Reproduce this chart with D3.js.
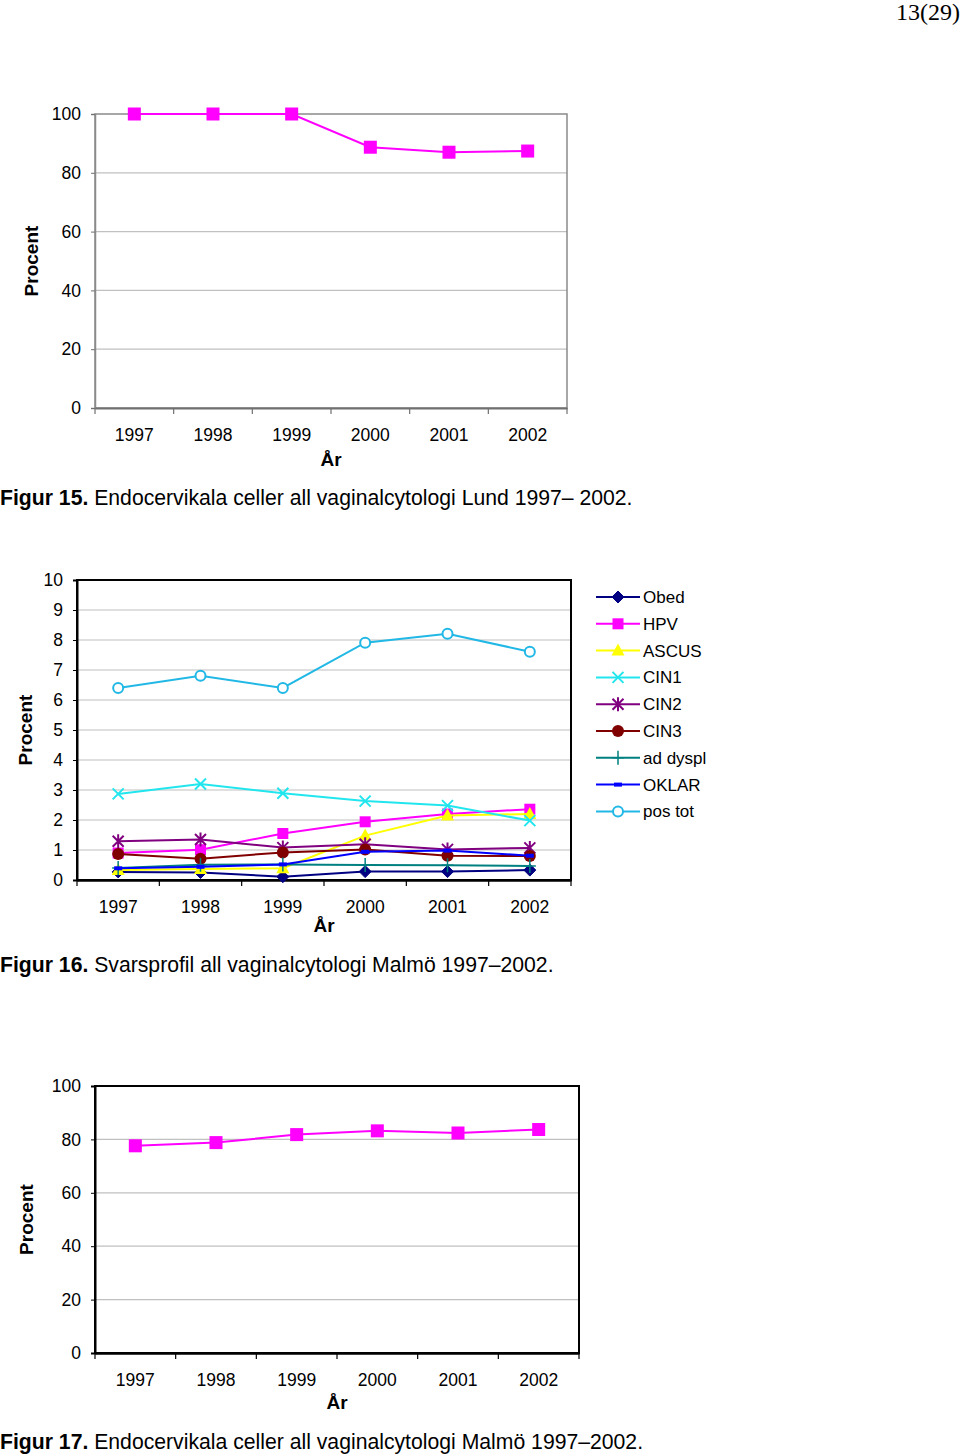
<!DOCTYPE html>
<html><head><meta charset="utf-8">
<script src="https://cdn.jsdelivr.net/npm/d3@7"></script>
<style>
body{margin:0;background:#fff;}
svg text{font-family:"Liberation Sans",Arial,sans-serif;fill:#000;}
</style></head><body>
<svg id="c" width="960" height="1456"></svg>
<script>
const years = ["1997","1998","1999","2000","2001","2002"];
// Figur 15 – Lund
const lundEndo = [100, 100, 100, 88.7, 87.0, 87.4];
// Figur 16 – Malmö svarsprofil
const obed    = [0.27, 0.25, 0.11, 0.28, 0.28, 0.33];
const hpv     = [0.90, 1.01, 1.55, 1.94, 2.20, 2.36];
const ascus   = [0.33, 0.37, 0.39, 1.48, 2.15, 2.20];
const cin1    = [2.87, 3.20, 2.89, 2.63, 2.48, 1.98];
const cin2    = [1.29, 1.35, 1.08, 1.19, 1.02, 1.07];
const cin3    = [0.87, 0.71, 0.92, 1.02, 0.81, 0.80];
const adDyspl = [0.40, 0.51, 0.52, 0.50, 0.49, 0.47];
const oklar   = [0.39, 0.44, 0.52, 0.94, 0.98, 0.81];
const posTot  = [6.40, 6.81, 6.40, 7.91, 8.21, 7.61];
// Figur 17 – Malmö
const malmoEndo = [77.6, 78.8, 81.8, 83.2, 82.4, 83.7];

const ticks100 = [0,20,40,60,80,100];
const ticks10 = [0,1,2,3,4,5,6,7,8,9,10];

const seriesNames = ["Obed","HPV","ASCUS","CIN1","CIN2","CIN3","ad dyspl","OKLAR","pos tot"];
const seriesVals = [obed,hpv,ascus,cin1,cin2,cin3,adDyspl,oklar,posTot];
const seriesColors = ["#000080","#ff00ff","#ffff00","#22e6ee","#800080","#800000","#008080","#0000ff","#22b8e6"];
const seriesMarkers = ["diamond","square","triangle","x","star","circle","plus","dash","ocircle"];

const svg = d3.select("#c");

function marker(g, type, x, y, color){
  const s = 6;
  if(type==="diamond"){
    g.append("path").attr("d",`M${x},${y-s}L${x+s},${y}L${x},${y+s}L${x-s},${y}Z`).attr("fill",color).attr("stroke",color).attr("stroke-width",1);
  } else if(type==="square"){
    g.append("rect").attr("x",x-5.5).attr("y",y-5.5).attr("width",11).attr("height",11).attr("fill",color);
  } else if(type==="bigsquare"){
    g.append("rect").attr("x",x-6.5).attr("y",y-6.5).attr("width",13).attr("height",13).attr("fill",color);
  } else if(type==="triangle"){
    g.append("path").attr("d",`M${x},${y-7}L${x+6.5},${y+5}L${x-6.5},${y+5}Z`).attr("fill",color);
  } else if(type==="x"){
    g.append("path").attr("d",`M${x-5.5},${y-5.5}L${x+5.5},${y+5.5}M${x-5.5},${y+5.5}L${x+5.5},${y-5.5}`).attr("stroke",color).attr("stroke-width",2).attr("fill","none");
  } else if(type==="star"){
    g.append("path").attr("d",`M${x-5.5},${y-5.5}L${x+5.5},${y+5.5}M${x-5.5},${y+5.5}L${x+5.5},${y-5.5}M${x},${y-7}L${x},${y+7}`).attr("stroke",color).attr("stroke-width",2).attr("fill","none");
  } else if(type==="circle"){
    g.append("circle").attr("cx",x).attr("cy",y).attr("r",6).attr("fill",color);
  } else if(type==="plus"){
    g.append("path").attr("d",`M${x},${y-7}L${x},${y+7}M${x-6},${y}L${x+6},${y}`).attr("stroke",color).attr("stroke-width",1.5).attr("fill","none");
  } else if(type==="dash"){
    g.append("rect").attr("x",x-4).attr("y",y-2).attr("width",8).attr("height",4).attr("fill",color);
  } else if(type==="ocircle"){
    g.append("circle").attr("cx",x).attr("cy",y).attr("r",5).attr("fill","#fff").attr("stroke",color).attr("stroke-width",2);
  }
}

function chart(cfg){
  const g = svg.append("g");
  const x = d3.scaleBand().domain(years).range([cfg.left,cfg.right]);
  const y = d3.scaleLinear().domain([0,cfg.max]).range([cfg.bottom,cfg.top]);
  g.selectAll(".grid").data(cfg.ticks.filter(t=>t>0&&t<cfg.max)).enter().append("line")
    .attr("x1",cfg.left).attr("x2",cfg.right).attr("y1",d=>y(d)).attr("y2",d=>y(d))
    .attr("stroke","#c0c0c0").attr("stroke-width",1.2);
  g.append("rect").attr("x",cfg.left).attr("y",cfg.top).attr("width",cfg.right-cfg.left).attr("height",cfg.bottom-cfg.top)
    .attr("fill","none").attr("stroke",cfg.frame).attr("stroke-width",cfg.frameW);
  const ya = g.append("g").attr("transform",`translate(${cfg.left},0)`)
    .call(d3.axisLeft(y).tickValues(cfg.ticks).tickSize(4).tickPadding(cfg.ypad).tickFormat(d3.format("d")));
  ya.select(".domain").attr("stroke",cfg.frame).attr("stroke-width",cfg.frameW);
  ya.selectAll(".tick line").attr("stroke",cfg.axisCol);
  ya.selectAll(".tick text").attr("font-size",17.5).attr("font-family","Liberation Sans, Arial").attr("fill","#000");
  const xa = g.append("g").attr("transform",`translate(0,${cfg.bottom})`)
    .call(d3.axisBottom(x).tickSize(0).tickPadding(cfg.xpad));
  xa.select(".domain").attr("stroke",cfg.axisCol).attr("stroke-width",cfg.frameW+0.5);
  xa.selectAll(".tick text").attr("font-size",17.5).attr("font-family","Liberation Sans, Arial").attr("fill","#000");
  const bounds = years.map(d=>x(d)).concat([cfg.right]);
  g.selectAll(".xt").data(bounds).enter().append("line")
    .attr("x1",d=>d).attr("x2",d=>d).attr("y1",cfg.bottom).attr("y2",cfg.bottom+6)
    .attr("stroke",cfg.axisCol).attr("stroke-width",1.2);
  g.append("text").attr("x",(cfg.left+cfg.right)/2).attr("y",cfg.bottom+cfg.arY).attr("text-anchor","middle")
    .attr("font-size",19).attr("font-weight","bold").text("År");
  g.append("text").attr("transform",`translate(${cfg.procX},${(cfg.top+cfg.bottom)/2}) rotate(-90)`)
    .attr("text-anchor","middle").attr("font-size",19).attr("font-weight","bold").text("Procent");
  const cx = d=>x(d)+x.bandwidth()/2;
  cfg.series.forEach(s=>{
    const line = d3.line().x((v,i)=>cx(years[i])).y(v=>y(v));
    g.append("path").attr("d",line(s.values)).attr("fill","none").attr("stroke",s.color).attr("stroke-width",2);
    s.values.forEach((v,i)=>marker(g,s.marker,cx(years[i]),y(v),s.color));
  });
  const t = g.append("text").attr("x",0).attr("y",cfg.capY).attr("font-size",21.2);
  t.append("tspan").attr("font-weight","bold").text(cfg.capB);
  t.append("tspan").text(cfg.capR);
  return {x,y};
}

svg.append("text").attr("x",960).attr("y",20).attr("text-anchor","end")
  .style("font-family","'Liberation Serif', 'Times New Roman', serif")
  .attr("font-size",24).text("13(29)");

chart({left:95,right:567,top:114,bottom:408,max:100,ticks:ticks100,frame:"#8a8a8a",frameW:1.5,axisCol:"#707070",
  ypad:10,xpad:21,arY:58,procX:38,capY:505,capB:"Figur 15.",capR:" Endocervikala celler all vaginalcytologi Lund 1997– 2002.",
  series:[{values:lundEndo,color:"#ff00ff",marker:"bigsquare"}]});

chart({left:77,right:571,top:580,bottom:880,max:10,ticks:ticks10,frame:"#000",frameW:2,axisCol:"#000",
  ypad:10,xpad:21,arY:52,procX:32,capY:972,capB:"Figur 16.",capR:" Svarsprofil all vaginalcytologi Malmö 1997–2002.",
  series:seriesVals.map((v,i)=>({values:v,color:seriesColors[i],marker:seriesMarkers[i]}))});

const lg = svg.append("g");
seriesNames.forEach((n,i)=>{
  const yy = 597 + i*26.8;
  lg.append("line").attr("x1",596).attr("x2",640).attr("y1",yy).attr("y2",yy).attr("stroke",seriesColors[i]).attr("stroke-width",2);
  marker(lg,seriesMarkers[i],618,yy,seriesColors[i]);
  lg.append("text").attr("x",643).attr("y",yy+6).attr("font-size",17).text(n);
});

chart({left:95,right:579,top:1086,bottom:1353,max:100,ticks:ticks100,frame:"#000",frameW:2,axisCol:"#000",
  ypad:10,xpad:21,arY:56,procX:33,capY:1449,capB:"Figur 17.",capR:" Endocervikala celler all vaginalcytologi Malmö 1997–2002.",
  series:[{values:malmoEndo,color:"#ff00ff",marker:"bigsquare"}]});
</script></body></html>
